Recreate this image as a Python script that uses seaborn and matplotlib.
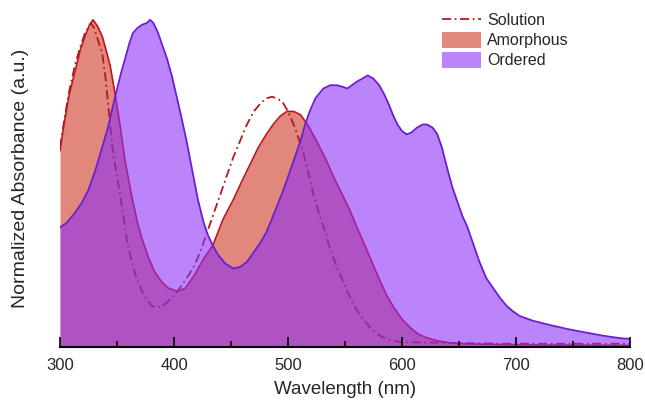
import numpy as np
import pandas as pd
import matplotlib
matplotlib.use("Agg")
import matplotlib.pyplot as plt
import seaborn as sns
from matplotlib.patches import Patch
from matplotlib.lines import Line2D

# ---- data ----
amorph_wl = [300, 304, 308, 313, 318, 322, 326, 329, 333, 337, 341, 344, 348, 353, 357, 363, 368,
             372, 378, 383, 389, 395, 403, 410, 418, 426, 434, 443, 452, 460, 467, 474, 481, 487,
             493, 499, 505, 511, 518, 525, 533, 540, 547, 554, 560, 565, 570, 576, 581, 587, 593,
             600, 607, 614, 622, 630, 640, 651, 680, 720, 800]
amorph_abs = [0.60, 0.69, 0.77, 0.84, 0.91, 0.95, 0.985, 1.00, 0.98, 0.95, 0.90, 0.86, 0.78, 0.67,
              0.57, 0.46, 0.38, 0.33, 0.27, 0.23, 0.20, 0.18, 0.17, 0.18, 0.22, 0.27, 0.31, 0.39,
              0.45, 0.51, 0.56, 0.61, 0.65, 0.68, 0.705, 0.72, 0.72, 0.71, 0.675, 0.63, 0.575,
              0.52, 0.47, 0.42, 0.37, 0.33, 0.29, 0.24, 0.20, 0.155, 0.12, 0.085, 0.06, 0.04,
              0.028, 0.02, 0.014, 0.01, 0.008, 0.006, 0.005]

ordered_wl = [300, 306, 313, 319, 325, 331, 337, 342, 348, 353, 357, 361, 364, 368, 372, 376, 379,
              382, 386, 390, 394, 398, 402, 406, 411, 416, 421, 426, 430, 434, 439, 445, 452, 458,
              464, 470, 476, 481, 488, 496, 503, 511, 515, 519, 524, 531, 537, 543, 548, 552, 556,
              560, 565, 570, 575, 580, 584, 588, 592, 596, 600, 604, 608, 613, 618, 622, 627, 631,
              635, 639, 644, 648, 653, 657, 662, 668, 674, 680, 686, 692, 697, 703, 715, 730, 745,
              760, 774, 785, 794, 800]
ordered_abs = [0.365, 0.38, 0.41, 0.44, 0.48, 0.54, 0.61, 0.67, 0.76, 0.83, 0.88, 0.93, 0.96,
               0.975, 0.985, 0.99, 1.00, 0.99, 0.96, 0.92, 0.88, 0.83, 0.77, 0.71, 0.63, 0.54,
               0.45, 0.38, 0.34, 0.31, 0.28, 0.255, 0.24, 0.245, 0.26, 0.29, 0.32, 0.35, 0.41,
               0.48, 0.55, 0.63, 0.68, 0.72, 0.76, 0.79, 0.80, 0.80, 0.795, 0.79, 0.80, 0.81,
               0.82, 0.83, 0.82, 0.80, 0.775, 0.745, 0.71, 0.68, 0.66, 0.65, 0.655, 0.67, 0.68,
               0.68, 0.67, 0.65, 0.61, 0.555, 0.49, 0.45, 0.40, 0.37, 0.32, 0.26, 0.21, 0.18,
               0.15, 0.125, 0.11, 0.095, 0.08, 0.067, 0.055, 0.045, 0.036, 0.03, 0.026, 0.025]

solution_wl = [300, 304, 308, 313, 318, 322, 327, 330, 334, 337, 340, 342, 346, 350, 353, 356, 359,
               363, 367, 372, 377, 381, 385, 390, 395, 401, 407, 413, 418, 423, 428, 434, 440, 446,
               452, 458, 464, 470, 476, 481, 486, 490, 495, 500, 505, 509, 513, 518, 522, 527, 531,
               536, 540, 546, 552, 559, 566, 572, 578, 584, 590, 600, 650, 700, 800]
solution_abs = [0.61, 0.70, 0.78, 0.86, 0.92, 0.96, 0.99, 0.975, 0.93, 0.90, 0.82, 0.75, 0.61,
                0.52, 0.46, 0.39, 0.32, 0.26, 0.21, 0.17, 0.14, 0.125, 0.12, 0.125, 0.14, 0.16,
                0.19, 0.22, 0.25, 0.29, 0.34, 0.40, 0.46, 0.52, 0.58, 0.63, 0.68, 0.72, 0.745,
                0.76, 0.765, 0.76, 0.75, 0.72, 0.68, 0.64, 0.60, 0.53, 0.47, 0.41, 0.37, 0.31,
                0.27, 0.22, 0.17, 0.12, 0.085, 0.06, 0.04, 0.028, 0.02, 0.015, 0.012, 0.01, 0.01]

x_ticks = [300, 400, 500, 600, 700, 800]
x_label = "Wavelength (nm)"
y_label = "Normalized Absorbance (a.u.)"
labels = ["Solution", "Amorphous", "Ordered"]

# ---- styling ----
sns.set_theme(style="white")
plt.rcParams["font.family"] = ["Liberation Sans", "DejaVu Sans"]
plt.rcParams["xtick.direction"] = "in"
plt.rcParams["xtick.bottom"] = True

c_am_fill = "#e1877c"
c_am_line = "#c0141c"
c_sol = "#b01c1c"
c_or_fill = "#8c2cf7"
c_or_line = "#6a1fd0"
sol_dash = (0, (5, 2, 1, 2))

fig = plt.figure(figsize=(6.45, 4.04), dpi=100)
ax = fig.add_axes([60 / 645, 1 - 347 / 404, 570 / 645, 337 / 404])

am = pd.DataFrame({"wl": amorph_wl, "a": amorph_abs})
orr = pd.DataFrame({"wl": ordered_wl, "a": ordered_abs})
so = pd.DataFrame({"wl": solution_wl, "a": solution_abs})

ax.fill_between(am["wl"], 0, am["a"], color=c_am_fill, lw=0, zorder=1)
sns.lineplot(data=am, x="wl", y="a", ax=ax, color=c_am_line, lw=1.2, sort=False,
             estimator=None, zorder=2)
sns.lineplot(data=so, x="wl", y="a", ax=ax, color=c_sol, lw=1.3, sort=False,
             estimator=None, zorder=2, dashes=False, linestyle=sol_dash)
ax.fill_between(orr["wl"], 0, orr["a"], color=c_or_fill, alpha=0.58, lw=0, zorder=3)
sns.lineplot(data=orr, x="wl", y="a", ax=ax, color=c_or_line, lw=1.3, sort=False,
             estimator=None, zorder=4)

ax.set_xlim(300, 800)
ax.set_ylim(0, 1.03)
ax.set_xticks(x_ticks)
ax.set_xticks(np.arange(350, 800, 100), minor=True)
ax.set_yticks([])
ax.tick_params(axis="x", which="major", direction="in", length=7, width=1.2,
               labelsize=12, pad=8, color="black", bottom=True)
ax.tick_params(axis="x", which="minor", direction="in", length=4, width=1.2,
               color="black", bottom=True)
for s in ["top", "right", "left"]:
    ax.spines[s].set_visible(False)
ax.spines["bottom"].set_color("black")
ax.spines["bottom"].set_linewidth(1.5)
ax.spines["bottom"].set_zorder(6)
ax.xaxis.set_zorder(7)
ax.set_xlabel(x_label, fontsize=13.5, labelpad=6)
ax.set_ylabel(y_label, fontsize=14, labelpad=22)
ax.patch.set_alpha(0)

handles = [
    Line2D([0], [0], color=c_sol, lw=1.3, linestyle=sol_dash),
    Patch(facecolor=c_am_fill, edgecolor="none"),
    Patch(facecolor=c_or_fill, alpha=0.58, edgecolor="none"),
]
fig.legend(handles, labels, loc="upper left", bbox_to_anchor=(431 / 645, 1 - 1 / 404),
           frameon=False, fontsize=11.5, handlelength=2.4, handleheight=1.1,
           handletextpad=0.4, labelspacing=0.25, borderpad=0.2)

fig.savefig("out.png", dpi=100)
